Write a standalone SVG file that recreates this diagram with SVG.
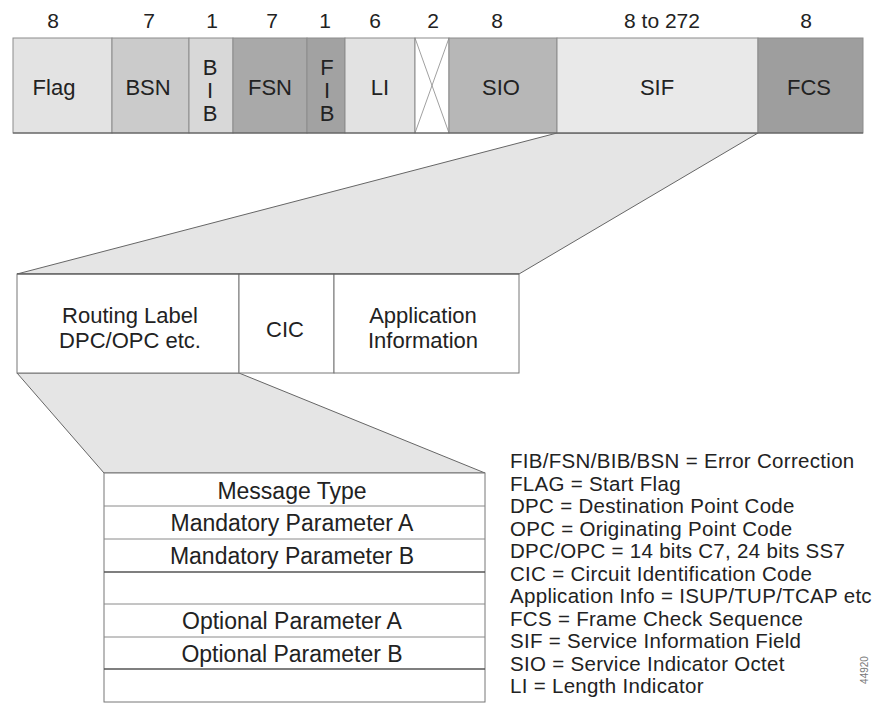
<svg xmlns="http://www.w3.org/2000/svg" width="875" height="704" viewBox="0 0 875 704">
  <style>
    text { font-family: "Liberation Sans", Arial, Helvetica, sans-serif; fill: #222; }
    .num { font-size: 21px; text-anchor: middle; }
    .lbl { font-size: 22px; text-anchor: middle; }
    .tbl { font-size: 23px; text-anchor: middle; }
    .leg { font-size: 20.5px; letter-spacing: 0.3px; }
    .fld { stroke: #8c8c8c; stroke-width: 1; }
    .edge { stroke: #555; stroke-width: 1.2; fill: none; }
    .zoom { fill: #e5e5e5; stroke: #666; stroke-width: 1; }
    .box { fill: #fff; stroke: #777; stroke-width: 1; }
    .row { stroke: #8a8a8a; stroke-width: 1; }
    .row-dk { stroke: #555; stroke-width: 1.3; }
    .tag { font-size: 10px; fill: #777; text-anchor: middle; }
  </style>

  <!-- bit widths above the signal unit -->
  <g id="bit-counts">
    <text class="num" x="53" y="28">8</text>
    <text class="num" x="149" y="28">7</text>
    <text class="num" x="212" y="28">1</text>
    <text class="num" x="272" y="28">7</text>
    <text class="num" x="325" y="28">1</text>
    <text class="num" x="375" y="28">6</text>
    <text class="num" x="433" y="28">2</text>
    <text class="num" x="497" y="28">8</text>
    <text class="num" x="662" y="28">8 to 272</text>
    <text class="num" x="806" y="28">8</text>
  </g>

  <!-- zoom projections (drawn first so boxes sit on top) -->
  <g id="connectors">
    <polygon class="zoom" points="557,133 758,133 519,274 17,274"/>
    <polygon class="zoom" points="17,373 239,373 485,473 104,473"/>
  </g>

  <!-- signal unit fields -->
  <g id="field-flag">
    <rect class="fld" x="13" y="38" width="99" height="95" fill="#e3e3e3"/>
    <text class="lbl" x="54" y="95">Flag</text>
  </g>
  <g id="field-bsn">
    <rect class="fld" x="112" y="38" width="77" height="95" fill="#cbcbcb"/>
    <text class="lbl" x="148" y="95">BSN</text>
  </g>
  <g id="field-bib">
    <rect class="fld" x="189" y="38" width="44" height="95" fill="#d8d8d8"/>
    <text class="lbl" x="210" y="75">B</text>
    <text class="lbl" x="210" y="98">I</text>
    <text class="lbl" x="210" y="121">B</text>
  </g>
  <g id="field-fsn">
    <rect class="fld" x="233" y="38" width="74" height="95" fill="#a9a9a9" stroke="#777"/>
    <text class="lbl" x="270" y="95">FSN</text>
  </g>
  <g id="field-fib">
    <rect class="fld" x="307" y="38" width="38" height="95" fill="#a2a2a2" stroke="#6e6e6e"/>
    <text class="lbl" x="327" y="75">F</text>
    <text class="lbl" x="327" y="98">I</text>
    <text class="lbl" x="327" y="121">B</text>
  </g>
  <g id="field-li">
    <rect class="fld" x="345" y="38" width="70" height="95" fill="#e2e2e2"/>
    <text class="lbl" x="380" y="95">LI</text>
  </g>
  <g id="field-spare">
    <rect class="fld" x="415" y="38" width="34" height="95" fill="#fff" stroke="#666"/>
    <line x1="415" y1="38" x2="449" y2="133" stroke="#888" stroke-width="0.8"/>
    <line x1="449" y1="38" x2="415" y2="133" stroke="#888" stroke-width="0.8"/>
  </g>
  <g id="field-sio">
    <rect class="fld" x="449" y="38" width="108" height="95" fill="#b7b7b7"/>
    <text class="lbl" x="501" y="95">SIO</text>
  </g>
  <g id="field-sif">
    <rect class="fld" x="557" y="38" width="201" height="95" fill="#e9e9e9"/>
    <text class="lbl" x="657" y="95">SIF</text>
  </g>
  <g id="field-fcs">
    <rect class="fld" x="758" y="38" width="105" height="95" fill="#9e9e9e"/>
    <text class="lbl" x="809" y="95">FCS</text>
  </g>
  <line class="edge" x1="13" y1="133" x2="863" y2="133"/>

  <!-- SIF breakdown -->
  <g id="sif-routing-label">
    <rect class="box" x="17" y="274" width="222" height="99"/>
    <text class="lbl" x="130" y="323">Routing Label</text>
    <text class="lbl" x="130" y="348">DPC/OPC etc.</text>
  </g>
  <g id="sif-cic">
    <rect class="box" x="239" y="274" width="95" height="99"/>
    <text class="lbl" x="285" y="337">CIC</text>
  </g>
  <g id="sif-application">
    <rect class="box" x="334" y="274" width="185" height="99"/>
    <text class="lbl" x="423" y="323">Application</text>
    <text class="lbl" x="423" y="348">Information</text>
  </g>
  <line class="edge" x1="17" y1="274" x2="519" y2="274"/>

  <!-- message layout -->
  <g id="message-table">
    <rect class="box" x="104" y="473" width="381" height="229"/>
    <line class="row" x1="104" y1="506" x2="485" y2="506"/>
    <line class="row" x1="104" y1="539" x2="485" y2="539"/>
    <line class="row-dk" x1="104" y1="572" x2="485" y2="572"/>
    <line class="row" x1="104" y1="604" x2="485" y2="604"/>
    <line class="row" x1="104" y1="637" x2="485" y2="637"/>
    <line class="row-dk" x1="104" y1="669" x2="485" y2="669"/>
    <text class="tbl" x="292" y="499">Message Type</text>
    <text class="tbl" x="292" y="531">Mandatory Parameter A</text>
    <text class="tbl" x="292" y="564">Mandatory Parameter B</text>
    <text class="tbl" x="292" y="629">Optional Parameter A</text>
    <text class="tbl" x="292" y="662">Optional Parameter B</text>
  </g>

  <!-- abbreviations -->
  <g id="legend">
    <text class="leg" x="510" y="468">FIB/FSN/BIB/BSN = Error Correction</text>
    <text class="leg" x="510" y="490.5">FLAG = Start Flag</text>
    <text class="leg" x="510" y="513">DPC = Destination Point Code</text>
    <text class="leg" x="510" y="535.5">OPC = Originating Point Code</text>
    <text class="leg" x="510" y="558">DPC/OPC = 14 bits C7, 24 bits SS7</text>
    <text class="leg" x="510" y="580.5">CIC = Circuit Identification Code</text>
    <text class="leg" x="510" y="603">Application Info = ISUP/TUP/TCAP etc</text>
    <text class="leg" x="510" y="625.5">FCS = Frame Check Sequence</text>
    <text class="leg" x="510" y="648">SIF = Service Information Field</text>
    <text class="leg" x="510" y="670.5">SIO = Service Indicator Octet</text>
    <text class="leg" x="510" y="693">LI = Length Indicator</text>
  </g>

  <text class="tag" transform="translate(868 670) rotate(-90)">44920</text>
</svg>
